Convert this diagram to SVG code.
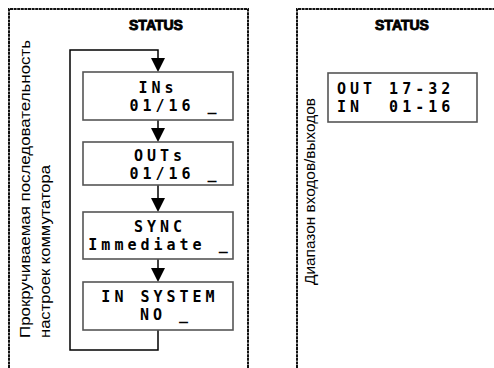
<svg xmlns="http://www.w3.org/2000/svg" width="494" height="368" viewBox="0 0 494 368">
<defs>
<style>
.panel{fill:none;stroke:#111;stroke-width:2;stroke-dasharray:3 0.6}
.title{font-family:"Liberation Sans",Arial,sans-serif;font-weight:bold;font-size:14px;fill:#000;stroke:#000;stroke-width:0.9;text-anchor:middle}
.lcdbox{fill:#fff;stroke:#555;stroke-width:1.6}
.lcd{font-family:"DejaVu Sans Mono","Liberation Mono",monospace;font-size:15px;font-weight:bold;letter-spacing:4px;fill:#000;text-anchor:middle;white-space:pre}
.vt{font-family:"Liberation Sans",Arial,sans-serif;font-size:14px;fill:#000}
.conn{fill:none;stroke:#000;stroke-width:1.5}
.ah{fill:#000}
</style>
</defs>
<g id="panel-left">
<path class="panel" d="M9,368 V9 H248 V368"/>
<text class="title" x="156" y="30">STATUS</text>
<text class="vt" transform="translate(30,338) rotate(-90)" textLength="298" lengthAdjust="spacingAndGlyphs">Прокручиваемая последовательность</text>
<text class="vt" transform="translate(50,338) rotate(-90)" textLength="173" lengthAdjust="spacingAndGlyphs">настроек коммутатора</text>
</g>
<g id="panel-right">
<path class="panel" d="M297,368 V9 H494"/>
<text class="title" x="402" y="30">STATUS</text>
<text class="vt" transform="translate(315,285) rotate(-90)" textLength="187" lengthAdjust="spacingAndGlyphs">Диапазон входов/выходов</text>
</g>
<g id="connectors">
<path class="conn" d="M158,330 V350 H70 V50 H158 V60"/>
<path d="M151,58 H165 L158,72 Z" class="ah"/>
<path class="conn" d="M158,120 V130"/>
<path d="M151,128 H165 L158,142 Z" class="ah"/>
<path class="conn" d="M158,185 V200"/>
<path d="M151,198 H165 L158,212 Z" class="ah"/>
<path class="conn" d="M158,259 V270"/>
<path d="M151,268 H165 L158,282 Z" class="ah"/>
</g>
<g id="node-ins">
<rect class="lcdbox" x="83" y="72" width="150" height="48"/>
<text class="lcd" x="158" y="93">INs</text>
<text class="lcd" x="175" y="111">01/16 _</text>
</g>
<g id="node-outs">
<rect class="lcdbox" x="83" y="142" width="150" height="43"/>
<text class="lcd" x="160" y="161">OUTs</text>
<text class="lcd" x="175" y="179">01/16 _</text>
</g>
<g id="node-sync">
<rect class="lcdbox" x="83" y="212" width="150" height="47"/>
<text class="lcd" x="160" y="232">SYNC</text>
<text class="lcd" x="160" y="250">Immediate _</text>
</g>
<g id="node-insystem">
<rect class="lcdbox" x="83" y="282" width="150" height="48"/>
<text class="lcd" x="160" y="302">IN SYSTEM</text>
<text class="lcd" x="166" y="320">NO _</text>
</g>
<g id="node-range">
<rect class="lcdbox" x="328" y="73" width="149" height="49"/>
<text class="lcd" x="337" y="94" style="text-anchor:start">OUT 17-32</text>
<text class="lcd" x="337" y="112" style="text-anchor:start">IN  01-16</text>
</g>
</svg>
